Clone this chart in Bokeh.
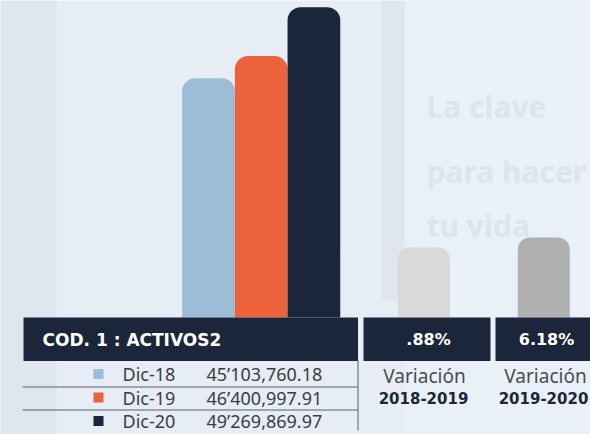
from bokeh.plotting import figure
from bokeh.models import Range1d, ColumnDataSource
from bokeh.core.properties import value
from bokeh.embed import file_html
from bokeh.resources import INLINE

# ---- data ----
periods = ["Dic-18", "Dic-19", "Dic-20"]
activos = [45103760.18, 46400997.91, 49269869.97]
activos_labels = ["45\u2019103,760.18", "46\u2019400,997.91", "49\u2019269,869.97"]
bar_colors = ["#9bbdd6", "#ec623a", "#1b263b"]
var_periods = ["2018-2019", "2019-2020"]
var_values = [2.88, 6.18]
var_labels = [".88%", "6.18%"]
var_colors = ["#d9d9d9", "#b0b0b0"]
title = "COD. 1 : ACTIVOS2"
bg_words = ["La clave", "para hacer", "tu vida"]

NAVY = "#1b263b"
BG = "#e6edf5"

# ---- scales (value axis baseline sits on the table header) ----
base_val = 31.062e6
var_base = -20.22

p = figure(width=590, height=434, x_range=Range1d(0, 590),
           y_range=Range1d(24.197e6, 49.663e6),
           toolbar_location=None, output_backend="svg",
           min_border=0, x_axis_location=None, y_axis_location=None,
           background_fill_color=BG, border_fill_color=BG,
           outline_line_color=None)
p.grid.visible = False
p.extra_y_ranges = {"lay": Range1d(434, 0), "var": Range1d(-58.83, 84.39)}

# ---- faint backdrop ----
p.quad(left=[0], right=[56], top=[0], bottom=[434], y_range_name="lay",
       fill_color="#e0e6ed", line_color=None)
p.quad(left=[404], right=[590], top=[0], bottom=[434], y_range_name="lay",
       fill_color="#e9f0f7", line_color=None)
p.quad(left=[381], right=[404], top=[0], bottom=[300], y_range_name="lay",
       fill_color="#e0e6ee", line_color=None)
p.text(x=[426] * 3, y=[106, 171, 225], text=bg_words, y_range_name="lay",
       text_font=value("Noto Sans"), text_font_style="bold",
       text_font_size="30px", text_color="#dce4ee", text_baseline="middle")

# ---- main bars ----
bx = [208 + 52.7 * i for i in range(len(activos))]
src = ColumnDataSource(dict(x=bx, top=activos, color=bar_colors))
p.vbar(x="x", top="top", bottom=base_val, width=52.7, fill_color="color",
       line_color=None, source=src, border_radius=(13, 13, 0, 0))

# ---- variation bars ----
vx = [423.5 + 119.8 * i for i in range(len(var_values))]
vsrc = ColumnDataSource(dict(x=vx, top=var_values, color=var_colors))
p.vbar(x="x", top="top", bottom=var_base, width=52, fill_color="color",
       line_color=None, source=vsrc, y_range_name="var",
       border_radius=(12, 12, 0, 0))

# ---- table header bands ----
p.quad(left=[23, 363, 495], right=[357.5, 490, 590], top=[317] * 3,
       bottom=[360.5] * 3, y_range_name="lay", fill_color=NAVY, line_color=None)

p.text(x=[42], y=[339], text=[title], y_range_name="lay",
       text_font=value("DejaVu Sans"), text_font_style="bold",
       text_font_size="17px", text_color="white", text_baseline="middle")
p.text(x=[428, 546], y=[339, 339], text=var_labels, y_range_name="lay",
       text_font=value("DejaVu Sans"), text_font_style="bold",
       text_font_size="16px", text_color="white", text_baseline="middle",
       text_align="center")

# ---- table rows ----
ry = [373.5 + 23.5 * i for i in range(len(periods))]
p.segment(x0=[22, 22], x1=[357.5, 357.5], y0=[386.5, 409.5], y1=[386.5, 409.5],
          y_range_name="lay", line_color="#5a5f66", line_width=1)
p.segment(x0=[357.5], x1=[357.5], y0=[360], y1=[430], y_range_name="lay",
          line_color="#5a5f66", line_width=1)
p.scatter(x=[98] * 3, y=ry, marker="square", size=10, y_range_name="lay",
          fill_color=bar_colors, line_color=None)
p.text(x=[122] * 3, y=ry, text=periods, y_range_name="lay",
       text_font=value("Noto Sans"), text_font_size="18px",
       text_color="#3a3d42", text_baseline="middle")
p.text(x=[206] * 3, y=ry, text=activos_labels, y_range_name="lay",
       text_font=value("Noto Sans"), text_font_size="18px",
       text_color="#3a3d42", text_baseline="middle")

# ---- variation captions ----
p.text(x=[424, 545], y=[375, 375], text=["Variaci\u00f3n"] * 2, y_range_name="lay",
       text_font=value("Noto Sans"), text_font_size="19px",
       text_color="#4a4d52", text_baseline="middle", text_align="center")
p.text(x=[423, 543], y=[397, 397], text=var_periods, y_range_name="lay",
       text_font=value("DejaVu Sans"), text_font_style="bold",
       text_font_size="15px", text_color=NAVY, text_baseline="middle",
       text_align="center")

open("out.html", "w").write(file_html(p, INLINE))
